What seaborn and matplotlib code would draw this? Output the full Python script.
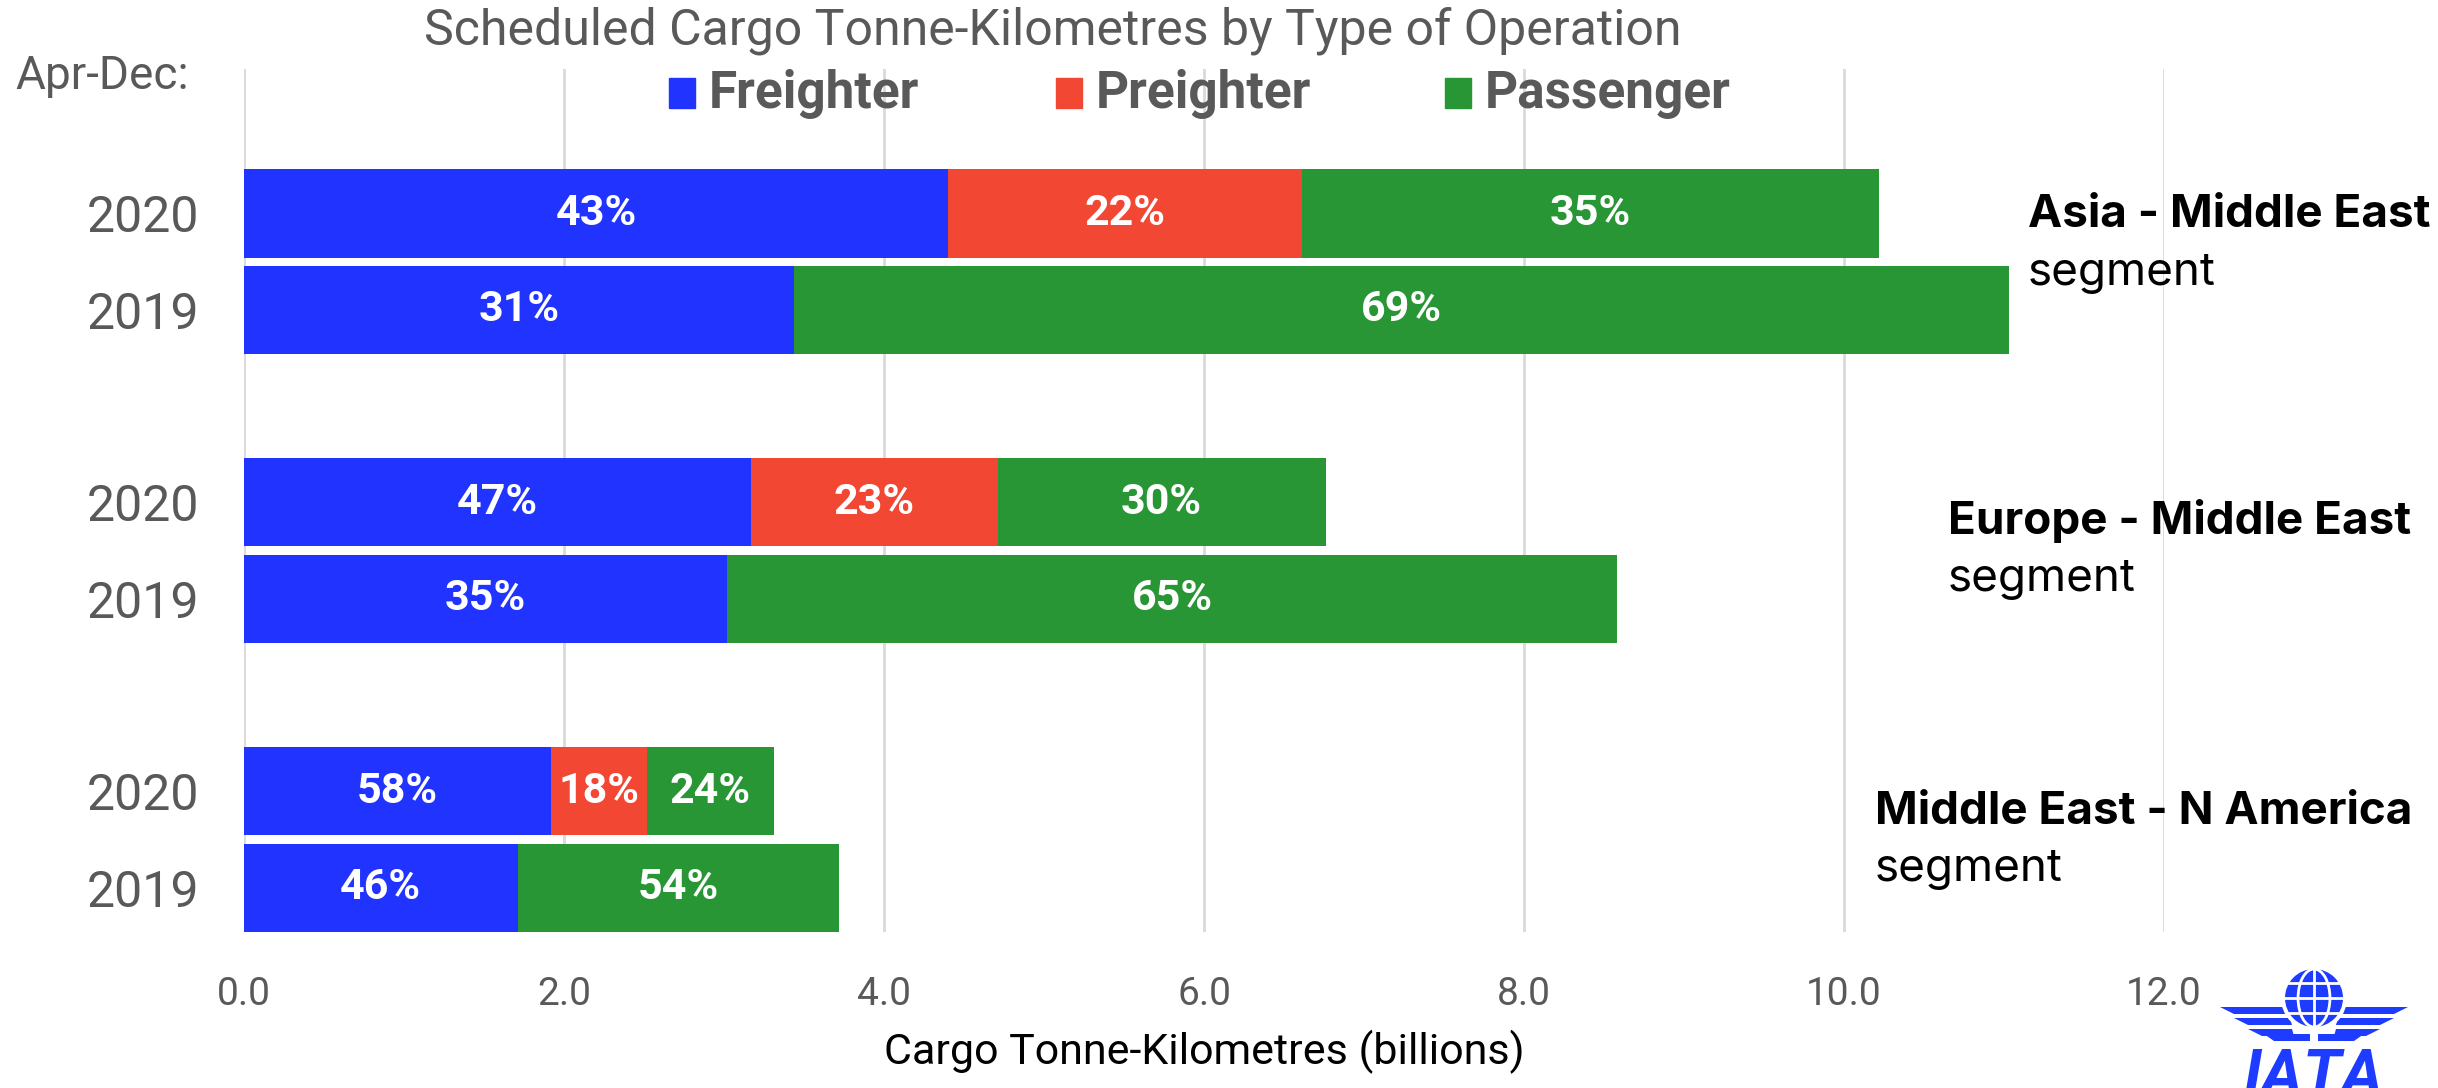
import matplotlib
matplotlib.use("Agg")
import matplotlib.pyplot as plt
from matplotlib.patches import Rectangle, Circle, Polygon, Ellipse
import pandas as pd
import seaborn as sns

# ================================
# Data (billions of CTKs, Apr-Dec)
# ================================
rows = ["A2020", "A2019", "gap1", "E2020", "E2019", "gap2", "M2020", "M2019"]
bar_rows = ["A2020", "A2019", "E2020", "E2019", "M2020", "M2019"]
year_labels = ["2020", "2019", "", "2020", "2019", "", "2020", "2019"]
freighter = [4.40, 3.44, 3.17, 3.02, 1.92, 1.71]
preighter = [2.21, 0.00, 1.54, 0.00, 0.60, 0.00]
passenger = [3.61, 7.59, 2.05, 5.56, 0.79, 2.01]
pct_freighter = ["43%", "31%", "47%", "35%", "58%", "46%"]
pct_preighter = ["22%", "", "23%", "", "18%", ""]
pct_passenger = ["35%", "69%", "30%", "65%", "24%", "54%"]
segments = ["Asia - Middle East", "Europe - Middle East", "Middle East - N America"]
xticks = [0, 2, 4, 6, 8, 10, 12]

BLUE = "#2134FF"
RED = "#F24733"
GREEN = "#289634"
GREY = "#595959"

df = pd.DataFrame({"row": bar_rows, "freighter": freighter,
                   "preighter": preighter, "passenger": passenger})
df["f_end"] = df["freighter"]
df["p_end"] = df["freighter"] + df["preighter"]
df["total"] = df["p_end"] + df["passenger"]

W, H = 2438, 1088
fig = plt.figure(figsize=(W / 100, H / 100), dpi=100)
ax = fig.add_axes([244 / W, 1 - 932 / H, (2164 - 244) / W, (932 - 69) / H])

def fx(x):
    return x / W

def fy(y):
    return 1 - y / H

# stacked bars drawn as overlaid cumulative bars
sns.barplot(data=df, x="total", y="row", order=rows, color=GREEN, width=0.915,
            saturation=1, ax=ax, orient="h")
sns.barplot(data=df, x="p_end", y="row", order=rows, color=RED, width=0.915,
            saturation=1, ax=ax, orient="h")
sns.barplot(data=df, x="f_end", y="row", order=rows, color=BLUE, width=0.915,
            saturation=1, ax=ax, orient="h")
for p in ax.patches:
    p.set_linewidth(0)
    p.set_zorder(2)

# percentage labels
for i, r in enumerate(bar_rows):
    yi = rows.index(r)
    f, pe, t = df.loc[i, "f_end"], df.loc[i, "p_end"], df.loc[i, "total"]
    for x0, x1, lab in [(0, f, pct_freighter[i]), (f, pe, pct_preighter[i]),
                        (pe, t, pct_passenger[i])]:
        if lab:
            ax.text((x0 + x1) / 2, yi, lab, ha="center", va="center", color="white",
                    fontsize=31, fontweight="bold", family="Roboto", zorder=3)

ax.set_xlim(0, 12)
ax.set_ylim(7.46, -1.5)
ax.set_xticks(xticks)
ax.set_xticklabels([f"{v:.1f}" for v in xticks], fontsize=28, color=GREY, family="Roboto")
ax.set_yticks(range(len(rows)))
ax.set_yticklabels(year_labels, fontsize=36, color=GREY, family="Roboto")
ax.tick_params(axis="both", length=0)
ax.tick_params(axis="x", pad=32)
ax.tick_params(axis="y", pad=32)
ax.set_xlabel("Cargo Tonne-Kilometres (billions)", fontsize=31, color="black",
              family="Roboto", labelpad=12)
ax.set_ylabel("")
for s in ax.spines.values():
    s.set_visible(False)
ax.grid(axis="x", color="#D9D9D9", linewidth=2, zorder=0)
ax.grid(axis="y", visible=False)
ax.set_axisbelow(True)

# title and header
fig.text(fx(1053), fy(31), "Scheduled Cargo Tonne-Kilometres by Type of Operation",
         ha="center", va="center", fontsize=36, color=GREY, family="Roboto")
fig.text(fx(15), fy(76), "Apr-Dec:", ha="left", va="center", fontsize=33,
         color=GREY, family="Roboto")

# legend
for sx, tx, lab, c in [(669, 709, "Freighter", BLUE), (1056, 1096, "Preighter", RED),
                       (1445, 1485, "Passenger", GREEN)]:
    fig.patches.append(Rectangle((fx(sx), fy(108)), 26 / W, 30 / H, color=c,
                                 transform=fig.transFigure, figure=fig))
    fig.text(fx(tx), fy(94), lab, ha="left", va="center", fontsize=37,
             fontweight="bold", color=GREY, family="Roboto")

# segment labels
for (x, yb, ys), name in zip([(2028, 215, 273), (1948, 521, 579), (1875, 812, 869)], segments):
    fig.text(fx(x), fy(yb), name, ha="left", va="center", fontsize=33,
             fontweight="bold", color="black", family="Inter")
    fig.text(fx(x), fy(ys), "segment", ha="left", va="center", fontsize=33,
             color="black", family="Inter")

# IATA logo (approximation), drawn in pixel units
LOGO = "#1E3CFF"
lx0, lx1, ly0, ly1 = 2190, 2438, 960, 1088
lax = fig.add_axes([fx(lx0), 0, (lx1 - lx0) / W, (ly1 - ly0) / H])
lax.set_xlim(lx0, lx1)
lax.set_ylim(ly1, ly0)
lax.axis("off")
gx, gy, gr = 2314, 998, 29
for wing in (-1, 1):
    for y0, y1, outer, inner in [(1007, 1014, 94, 22), (1018, 1025, 80, 24), (1029, 1036, 66, 22)]:
        pts = [(gx + wing * inner, y0), (gx + wing * outer, y0),
               (gx + wing * (outer - 14), y1), (gx + wing * (inner - 2), y1)]
        lax.add_patch(Polygon(pts, closed=True, color=LOGO, lw=0))
    pts = [(gx + wing * 4, 1034), (gx + wing * 50, 1034), (gx + wing * 40, 1041), (gx + wing * 4, 1041)]
    lax.add_patch(Polygon(pts, closed=True, color=LOGO, lw=0))
lax.add_patch(Circle((gx, gy), gr + 4, color="white", lw=0))
lax.add_patch(Circle((gx, gy), gr, color=LOGO, lw=0))
lax.plot([gx - gr, gx + gr], [gy, gy], color="white", lw=2)
lax.plot([gx, gx], [gy - gr, gy + gr], color="white", lw=2)
for dy in (-15, 15):
    half = (gr ** 2 - dy ** 2) ** 0.5
    lax.plot([gx - half, gx + half], [gy + dy, gy + dy], color="white", lw=2)
lax.add_patch(Ellipse((gx, gy), gr * 1.1, gr * 2, fill=False, ec="white", lw=2))
lax.text(gx, 1047, "IATA", ha="center", va="top", fontsize=46,
         fontweight="bold", style="italic", color=LOGO, family="Roboto")

fig.savefig("out.png", dpi=100)
